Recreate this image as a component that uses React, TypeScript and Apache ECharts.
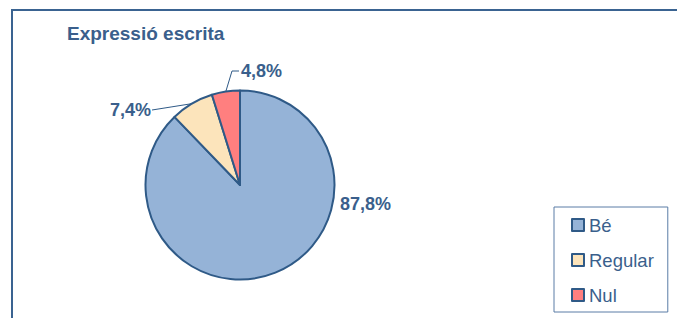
import React, { useEffect, useRef } from "react";
import * as echarts from "echarts";

const titleText = "Expressió escrita";
const categories = ["Bé", "Regular", "Nul"];
const values = [87.8, 7.4, 4.8];
const colors = ["#95B3D7", "#FCE4BB", "#FF7F7F"];

const TEXT = "#3A5F8C";
const EDGE = "#2F5A87";
const CX = 240;
const CY = 185;
const R = 94.5;

// label placement (layout only)
const labelPlace = [
  { x: 340, y: 204, align: "left" },
  { x: 151, y: 110, align: "right" },
  { x: 241, y: 71, align: "left" },
];

function anchorFor(i: number) {
  const total = values.reduce((a, b) => a + b, 0);
  let before = 0;
  for (let k = 0; k < i; k++) before += values[k];
  const th = (2 * Math.PI * (before + values[i] / 2)) / total;
  return [CX + R * Math.sin(th), CY - R * Math.cos(th)];
}

export default function App() {
  const ref = useRef<HTMLDivElement>(null);
  useEffect(() => {
    if (!ref.current) return;
    const chart = echarts.init(ref.current, undefined, { renderer: "svg" });
    chart.setOption({
      animation: false,
      backgroundColor: "#ffffff",
      title: {
        text: titleText,
        left: 67,
        top: 24,
        textStyle: {
          fontFamily: "Liberation Sans",
          fontWeight: "bold",
          fontSize: 19,
          color: TEXT,
        },
        padding: 0,
      },
      graphic: [
        {
          type: "rect",
          shape: { x: 12, y: 10, width: 700, height: 340 },
          style: { fill: "none", stroke: "#3A6391", lineWidth: 2 },
          silent: true,
        },
      ],
      legend: {
        orient: "vertical",
        left: 554,
        top: 207,
        padding: [8, 14, 7, 17],
        itemGap: 15,
        itemWidth: 12,
        itemHeight: 12,
        icon: "rect",
        borderColor: "#5A7DA6",
        borderWidth: 1,
        textStyle: {
          fontFamily: "Liberation Sans",
          fontSize: 18.5,
          color: TEXT,
          lineHeight: 20,
          padding: [0, 0, 0, 0],
        },
        itemStyle: { borderColor: EDGE, borderWidth: 2 },
        data: categories,
      },
      series: [
        {
          type: "pie",
          center: [CX, CY],
          radius: R,
          startAngle: 90,
          clockwise: true,
          data: categories.map((c, i) => ({
            name: c,
            value: values[i],
            itemStyle: { color: colors[i] },
            labelLine: { show: i !== 0 },
          })),
          itemStyle: { borderColor: EDGE, borderWidth: 2 },
          label: {
            show: true,
            formatter: (p: any) => String(p.value).replace(".", ",") + "%",
            fontFamily: "Liberation Sans",
            fontWeight: "bold",
            fontSize: 18,
            color: TEXT,
          },
          labelLine: {
            show: true,
            lineStyle: { color: EDGE, width: 1 },
            smooth: false,
          },
          labelLayout: (params: any) => {
            const i = params.dataIndex;
            const pl = labelPlace[i];
            const a = anchorFor(i);
            let pts: any = undefined;
            if (i === 1) {
              pts = [[pl.x + 1, pl.y], [(pl.x + 1 + a[0]) / 2, (pl.y + a[1]) / 2], a];
            } else if (i === 2) {
              pts = [a, [pl.x - 9, pl.y], [pl.x - 2, pl.y]];
            }
            const out: any = {
              x: pl.x,
              y: pl.y,
              align: pl.align,
              verticalAlign: "middle",
            };
            if (pts) out.labelLinePoints = pts;
            return out;
          },
        },
      ],
    });
    return () => chart.dispose();
  }, []);
  return (
    <div
      ref={ref}
      style={{ position: "fixed", left: 0, top: 0, width: 677, height: 318 }}
    />
  );
}
